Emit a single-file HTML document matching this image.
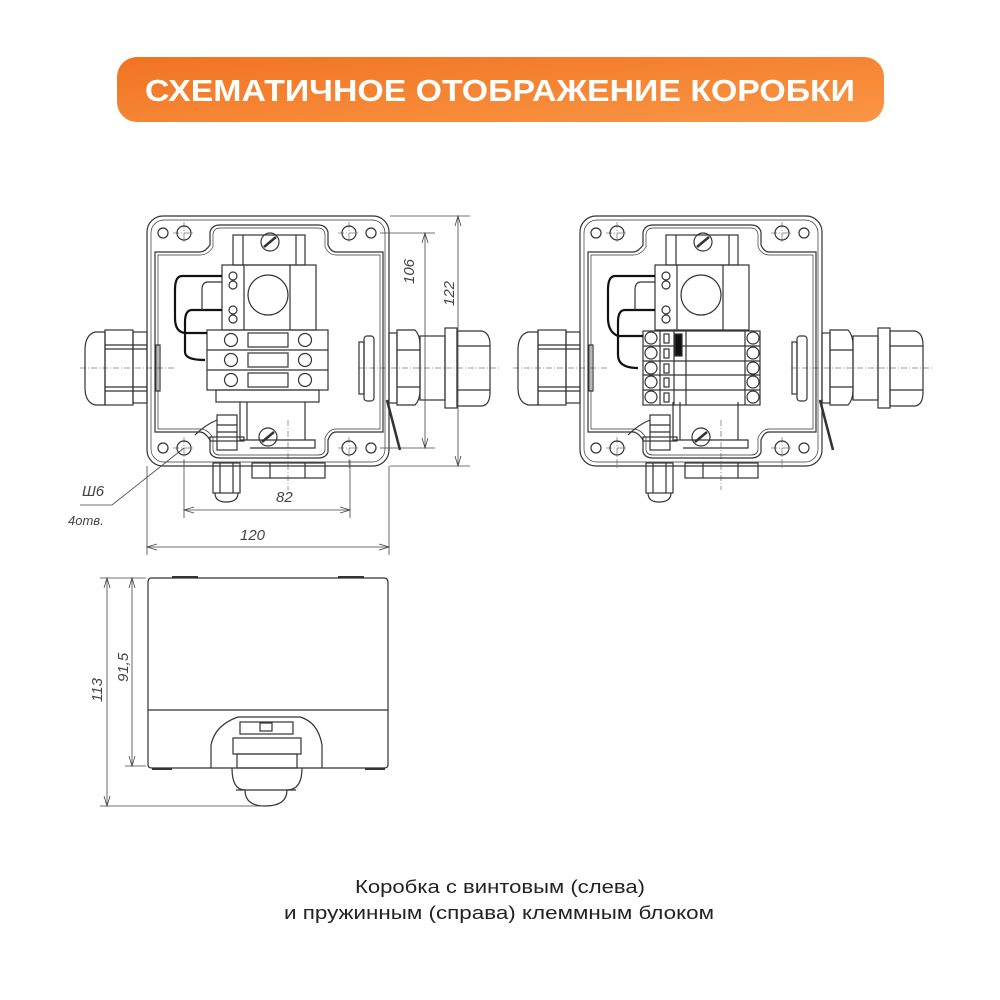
<!DOCTYPE html>
<html><head><meta charset="utf-8"><style>
html,body{margin:0;padding:0;background:#fff}
svg{display:block}
</style></head><body>
<svg width="1000" height="1000" viewBox="0 0 1000 1000" xmlns="http://www.w3.org/2000/svg" font-family="Liberation Sans, sans-serif">
<defs>
<linearGradient id="og" x1="0" y1="0" x2="1" y2="1">
<stop offset="0" stop-color="#f17322"/><stop offset="1" stop-color="#f99645"/>
</linearGradient>
<g id="frame" fill="none" stroke="#333" stroke-width="1.2">
  <rect x="147" y="216" width="242" height="250" rx="16"/>
  <rect x="151" y="220" width="234" height="242" rx="13" stroke-width="0.7"/>
  <path d="M155 252 H200 Q205 252 210 245 V232 Q212 225 220 225 H318 Q326 225 328 232 V245 Q331 252 336 252 H383 V432 H336 Q331 432 328 440 V452 Q326 458 318 458 H220 Q212 458 210 452 V440 Q205 432 200 432 H155 Z"/>
  <path d="M158 255 H200 Q208 255 213 247 V234 Q214 228 220 228 H318 Q324 228 325 234 V247 Q329 255 336 255 H380 V429 H336 Q329 429 325 438 V450 Q324 455 318 455 H220 Q214 455 213 450 V438 Q208 429 200 429 H158 Z" stroke-width="0.7"/>
  <circle cx="163" cy="233" r="5"/><circle cx="184" cy="233" r="7"/><circle cx="349" cy="233" r="7"/><circle cx="371" cy="233" r="5"/>
  <circle cx="163" cy="448" r="5"/><circle cx="184" cy="448" r="7"/><circle cx="349" cy="448" r="7"/><circle cx="371" cy="448" r="5"/>
  <g stroke-width="0.5" stroke-dasharray="6 2 1 2">
    <line x1="184" y1="222" x2="184" y2="244"/><line x1="173" y1="233" x2="195" y2="233"/>
    <line x1="349" y1="222" x2="349" y2="244"/><line x1="338" y1="233" x2="360" y2="233"/>
    <line x1="184" y1="437" x2="184" y2="470"/><line x1="173" y1="448" x2="195" y2="448"/>
    <line x1="349" y1="437" x2="349" y2="470"/><line x1="338" y1="448" x2="360" y2="448"/>
    <line x1="80" y1="368" x2="175" y2="368"/><line x1="358" y1="368" x2="500" y2="368"/>
    <line x1="288" y1="420" x2="288" y2="490"/>
  </g>
  <rect x="233" y="235" width="72" height="30"/><line x1="243" y1="235" x2="243" y2="265"/><line x1="296" y1="235" x2="296" y2="265"/>
  <circle cx="270" cy="242" r="9"/><line x1="264" y1="247" x2="276" y2="237" stroke-width="2.5"/>
  <path d="M240 402 V440 H315 V448 H250"/><line x1="305" y1="402" x2="305" y2="440"/><line x1="247" y1="402" x2="247" y2="440"/>
  <circle cx="268" cy="437" r="9"/><line x1="262" y1="442" x2="274" y2="432" stroke-width="2.5"/>
  <path d="M105 332 H95 Q85 335 85 350 V388 Q85 402 95 405 H105 Z"/>
  <rect x="105" y="330" width="28" height="75"/><rect x="133" y="332" width="14" height="71"/>
  <line x1="105" y1="345" x2="147" y2="345"/><line x1="105" y1="349" x2="147" y2="349"/>
  <line x1="105" y1="387" x2="147" y2="387"/><line x1="105" y1="391" x2="147" y2="391"/>
  <rect x="156" y="345" width="4" height="46"/>
  <rect x="364" y="336" width="10" height="65" rx="3"/><rect x="359" y="342" width="5" height="52"/>
  <rect x="389" y="333" width="8" height="70"/><path d="M397 330 H415 Q420 335 420 345 V390 Q420 400 415 405 H397 Z"/>
  <rect x="420" y="336" width="25" height="64"/><rect x="445" y="328" width="12" height="80"/>
  <path d="M457 331 H482 Q490 333 490 345 V392 Q490 405 482 406 H457 Z"/>
  <line x1="397" y1="350" x2="420" y2="350"/><line x1="397" y1="387" x2="420" y2="387"/>
  <line x1="457" y1="346" x2="490" y2="346"/><line x1="457" y1="390" x2="490" y2="390"/>
  <path d="M387 400 L400 450" stroke-width="2.5"/>
  <rect x="217" y="415" width="20" height="35"/><rect x="210" y="437" width="34" height="4"/>
  <line x1="217" y1="425" x2="237" y2="425"/><line x1="217" y1="432" x2="237" y2="432"/>
  <path d="M217 420 Q205 425 195 435" />
  <rect x="213" y="463" width="27" height="30"/><line x1="220" y1="463" x2="220" y2="493"/><line x1="233" y1="463" x2="233" y2="493"/>
  <path d="M215 493 Q215 502 226 502 Q238 502 238 493"/>
  <rect x="252" y="463" width="73" height="15"/><line x1="270" y1="463" x2="270" y2="478"/><line x1="305" y1="463" x2="305" y2="478"/>
</g>
</defs>

<rect x="117" y="57" width="767" height="65" rx="20" fill="url(#og)"/>
<text x="500" y="101" fill="#fff" font-size="31" font-weight="bold" text-anchor="middle" textLength="710" lengthAdjust="spacingAndGlyphs">СХЕМАТИЧНОЕ ОТОБРАЖЕНИЕ КОРОБКИ</text>

<use href="#frame"/>
<g fill="none" stroke="#333" stroke-width="1.2">
  <rect x="222" y="265" width="94" height="65"/><line x1="244" y1="265" x2="244" y2="330"/><line x1="290" y1="265" x2="290" y2="330"/>
  <circle cx="268" cy="295" r="20"/>
  <circle cx="233" cy="276" r="4"/><circle cx="233" cy="285" r="4"/><circle cx="233" cy="310" r="4"/><circle cx="233" cy="319" r="4"/>
  <rect x="207" y="330" width="121" height="60"/><line x1="207" y1="350" x2="328" y2="350"/><line x1="207" y1="370" x2="328" y2="370"/>
  <rect x="248" y="333" width="40" height="14"/><rect x="248" y="353" width="40" height="14"/><rect x="248" y="373" width="40" height="14"/>
  <circle cx="231" cy="340" r="6.5"/><circle cx="305" cy="340" r="6.5"/>
  <circle cx="231" cy="360" r="6.5"/><circle cx="305" cy="360" r="6.5"/>
  <circle cx="231" cy="380" r="6.5"/><circle cx="305" cy="380" r="6.5"/>
  <rect x="216" y="390" width="103" height="12"/>
  <path d="M222 276 H182 Q175 276 175 290 V318 Q175 332 185 333 H207" stroke="#111" stroke-width="2.2"/>
  <path d="M222 310 H192 Q185 310 185 322 V352 Q185 360 205 360" stroke="#111" stroke-width="2.2"/>
  <path d="M222 282 H208 Q202 282 202 290 V310" />
</g>

<g transform="translate(433,0)">
<use href="#frame"/>
<g fill="none" stroke="#333" stroke-width="1.2">
  <rect x="222" y="265" width="94" height="65"/><line x1="244" y1="265" x2="244" y2="330"/><line x1="290" y1="265" x2="290" y2="330"/>
  <circle cx="268" cy="295" r="20"/>
  <circle cx="233" cy="276" r="4"/><circle cx="233" cy="285" r="4"/><circle cx="233" cy="310" r="4"/><circle cx="233" cy="319" r="4"/>
  <rect x="210" y="331" width="117" height="74"/>
  <line x1="210" y1="346" x2="327" y2="346"/><line x1="210" y1="361" x2="327" y2="361"/><line x1="210" y1="375" x2="327" y2="375"/><line x1="210" y1="390" x2="327" y2="390"/>
  <line x1="227" y1="331" x2="227" y2="405"/><line x1="241" y1="331" x2="241" y2="405"/><line x1="253" y1="331" x2="253" y2="405"/><line x1="312" y1="331" x2="312" y2="405"/>
  <circle cx="218" cy="338" r="6"/><circle cx="218" cy="353" r="6"/><circle cx="218" cy="368" r="6"/><circle cx="218" cy="382" r="6"/><circle cx="218" cy="397" r="6"/>
  <circle cx="320" cy="338" r="6"/><circle cx="320" cy="353" r="6"/><circle cx="320" cy="368" r="6"/><circle cx="320" cy="382" r="6"/><circle cx="320" cy="397" r="6"/>
  <rect x="231" y="334" width="5" height="9"/><rect x="231" y="349" width="5" height="9"/><rect x="231" y="364" width="5" height="9"/><rect x="231" y="378" width="5" height="9"/><rect x="231" y="393" width="5" height="9"/>
  <rect x="242" y="334" width="7" height="22" fill="#111"/>
  <path d="M222 276 H182 Q175 276 175 290 V318 Q175 332 185 336 H210" stroke="#111" stroke-width="2.2"/>
  <path d="M222 310 H192 Q185 310 185 322 V355 Q185 368 205 368" stroke="#111" stroke-width="2.2"/>
  <path d="M222 282 H208 Q202 282 202 290 V310"/>
</g>
</g>

<g fill="none" stroke="#444" stroke-width="0.8">
  <line x1="390" y1="216" x2="470" y2="216"/><line x1="390" y1="466" x2="470" y2="466"/>
  <line x1="380" y1="233" x2="435" y2="233"/><line x1="380" y1="448" x2="435" y2="448"/>
  <line x1="425" y1="233" x2="425" y2="448"/><line x1="458" y1="216" x2="458" y2="466"/>
  <path d="M422 243 L425 233 L428 243 M422 438 L425 448 L428 438"/>
  <path d="M455 226 L458 216 L461 226 M455 456 L458 466 L461 456"/>
  <line x1="184" y1="460" x2="184" y2="518"/><line x1="350" y1="460" x2="350" y2="518"/>
  <line x1="147" y1="466" x2="147" y2="555"/><line x1="389" y1="466" x2="389" y2="555"/>
  <line x1="184" y1="510" x2="350" y2="510"/><line x1="147" y1="547" x2="389" y2="547"/>
  <path d="M194 507 L184 510 L194 513 M340 507 L350 510 L340 513"/>
  <path d="M157 544 L147 547 L157 550 M379 544 L389 547 L379 550"/>
  <path d="M184 448 L112 505 L80 505"/>
</g>
<g fill="#444" font-style="italic" font-size="15">
  <text x="0" y="0" transform="translate(414,284) rotate(-90)">106</text>
  <text x="0" y="0" transform="translate(454,306) rotate(-90)">122</text>
  <text x="276" y="502">82</text>
  <text x="240" y="540">120</text>
  <text x="82" y="496">Ш6</text>
  <text x="68" y="525" font-size="13">4отв.</text>
  <text x="0" y="0" transform="translate(102,702) rotate(-90)">113</text>
  <text x="0" y="0" transform="translate(128,682) rotate(-90)">91,5</text>
</g>

<g fill="none" stroke="#333" stroke-width="1.2">
  <path d="M151 578 H384 Q388 578 388 583 V765 Q388 768 384 768 H152 Q148 768 148 765 V583 Q148 578 151 578 Z"/>
  <line x1="148" y1="710" x2="388" y2="710"/>
  <line x1="172" y1="577" x2="198" y2="577" stroke-width="2"/><line x1="338" y1="577" x2="364" y2="577" stroke-width="2"/>
  <line x1="152" y1="769" x2="172" y2="769" stroke-width="2"/><line x1="365" y1="769" x2="385" y2="769" stroke-width="2"/>
  <path d="M211 768 V745 Q215 725 238 717 H300 Q318 722 322 745 V768"/>
  <rect x="240" y="722" width="53" height="12"/><rect x="260" y="723" width="12" height="8"/>
  <rect x="233" y="738" width="68" height="16"/><rect x="237" y="754" width="60" height="14"/>
  <path d="M232 768 Q232 790 245 790 Q245 806 265 806 Q287 806 287 790 Q302 790 302 768"/>
  <line x1="236" y1="790" x2="296" y2="790"/>
</g>
<g fill="none" stroke="#444" stroke-width="0.8">
  <line x1="100" y1="578" x2="146" y2="578"/><line x1="125" y1="766" x2="146" y2="766"/><line x1="100" y1="806" x2="262" y2="806"/>
  <line x1="107" y1="578" x2="107" y2="806"/><line x1="132" y1="578" x2="132" y2="766"/>
  <path d="M104 588 L107 578 L110 588 M104 796 L107 806 L110 796 M129 588 L132 578 L135 588 M129 756 L132 766 L135 756"/>
</g>

<text x="500" y="893" font-size="18" fill="#222" text-anchor="middle" textLength="290" lengthAdjust="spacingAndGlyphs">Коробка с винтовым (слева)</text>
<text x="499" y="919" font-size="18" fill="#222" text-anchor="middle" textLength="430" lengthAdjust="spacingAndGlyphs">и пружинным (справа) клеммным блоком</text>
</svg>
</body></html>
